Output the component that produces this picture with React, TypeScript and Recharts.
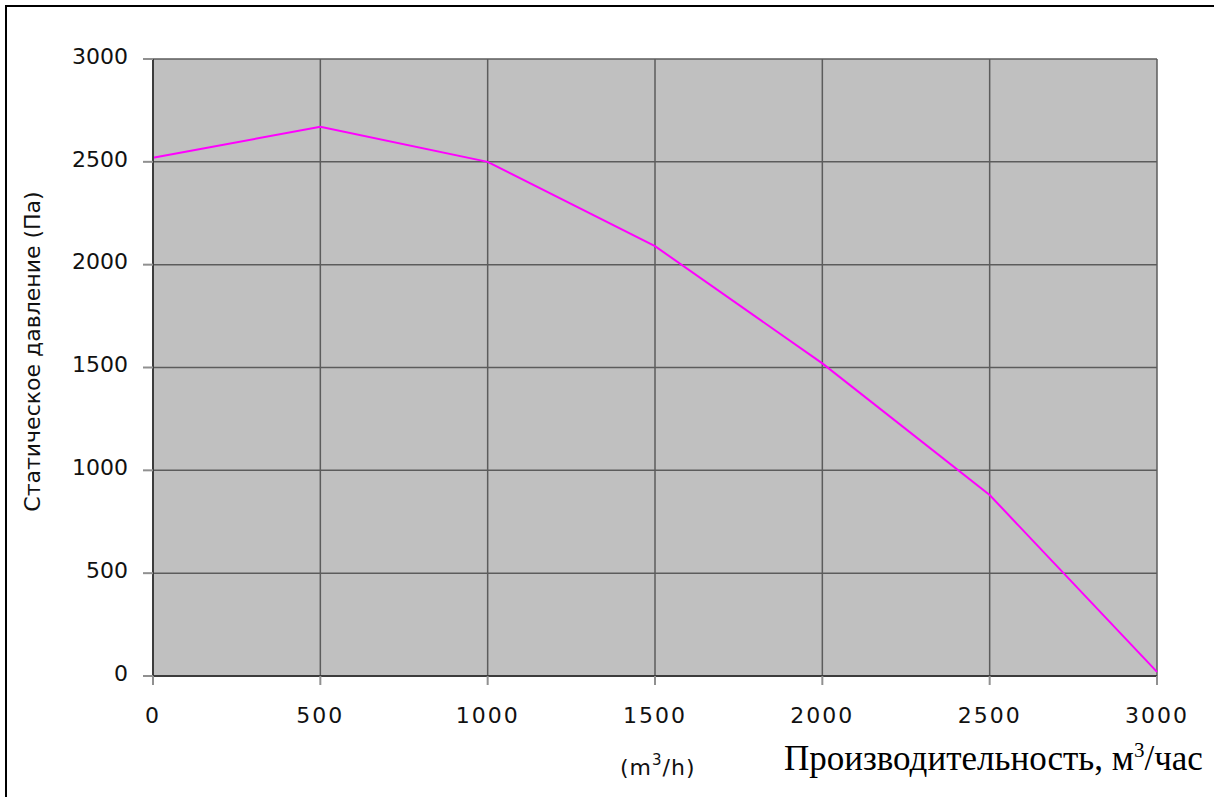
import React from 'react';
import {
  LineChart,
  Line,
  XAxis,
  YAxis,
  CartesianGrid,
} from 'recharts';

const flowRates = [0, 500, 1000, 1500, 2000, 2500, 3000];
const staticPressure = [2520, 2670, 2500, 2090, 1520, 880, 20];
const xTicks = [0, 500, 1000, 1500, 2000, 2500, 3000];
const yTicks = [0, 500, 1000, 1500, 2000, 2500, 3000];

const yTitle = 'Статическое давление (Па)';
const xUnit = 'm';
const xUnitRest = '/h)';
const xTitle = 'Производительность, м';
const xTitleRest = '/час';

const data = flowRates.map((q, i) => ({ q, p: staticPressure[i] }));

const SANS = '"DejaVu Sans", Verdana, sans-serif';
const SERIF = '"Liberation Serif", "Times New Roman", serif';

const YTitle = (props: any) => {
  const { viewBox } = props;
  const cx = viewBox.x + 32;
  const cy = viewBox.y + viewBox.height / 2 - 16;
  return (
    <text
      x={cx}
      y={cy}
      transform={`rotate(-90, ${cx}, ${cy})`}
      textAnchor="middle"
      dominantBaseline="central"
      fontFamily={SANS}
      fontSize={22}
      fill="#111"
    >
      {yTitle}
    </text>
  );
};

const XTitles = (props: any) => {
  const { viewBox } = props;
  const base = viewBox.y + 99;
  return (
    <g>
      <text x={viewBox.x + 467} y={base} fontFamily={SANS} fontSize={22} fill="#111" letterSpacing={1}>
        ({xUnit}
        <tspan dy={-10} fontSize={15}>3</tspan>
        <tspan dy={10}>{xUnitRest}</tspan>
      </text>
      <text x={viewBox.x + 631} y={base - 5} fontFamily={SERIF} fontSize={35} fill="#000">
        {xTitle}
        <tspan dy={-13} fontSize={21}>3</tspan>
        <tspan dy={13}>{xTitleRest}</tspan>
      </text>
    </g>
  );
};

const App: React.FC = () => {
  return (
    <div style={{ position: 'absolute', left: 0, top: 0, width: 1214, height: 797, background: '#fff' }}>
      <div
        style={{
          position: 'absolute',
          left: 5,
          top: 5,
          width: 1220,
          height: 800,
          borderTop: '2px solid #000',
          borderLeft: '2px solid #000',
        }}
      />
      <LineChart
        width={1214}
        height={797}
        data={data}
        margin={{ top: 59, right: 57, bottom: 0, left: 0 }}
        style={{ position: 'absolute', left: 0, top: 0 }}
      >
        <CartesianGrid fill="#c0c0c0" stroke="#5c5c5c" strokeWidth={1.5} />
        <XAxis
          dataKey="q"
          type="number"
          domain={[0, 3000]}
          ticks={xTicks}
          interval={0}
          height={121}
          axisLine={{ stroke: '#3c3c3c', strokeWidth: 2 }}
          tickLine={{ stroke: '#909090', strokeWidth: 2 }}
          tickSize={9}
          tickMargin={22}
          tick={{ fontFamily: SANS, fontSize: 22, fill: '#111', letterSpacing: 2 } as any}
          label={<XTitles />}
        />
        <YAxis
          type="number"
          domain={[0, 3000]}
          ticks={yTicks}
          interval={0}
          width={153}
          axisLine={{ stroke: '#3c3c3c', strokeWidth: 2 }}
          tickLine={{ stroke: '#909090', strokeWidth: 2 }}
          tickSize={10}
          tickMargin={15}
          tick={{ fontFamily: SANS, fontSize: 22, fill: '#111', dy: -3 } as any}
          label={<YTitle />}
        />
        <Line
          type="linear"
          dataKey="p"
          stroke="#ff00ff"
          strokeWidth={2}
          dot={false}
          activeDot={false}
          isAnimationActive={false}
        />
      </LineChart>
    </div>
  );
};

export default App;
